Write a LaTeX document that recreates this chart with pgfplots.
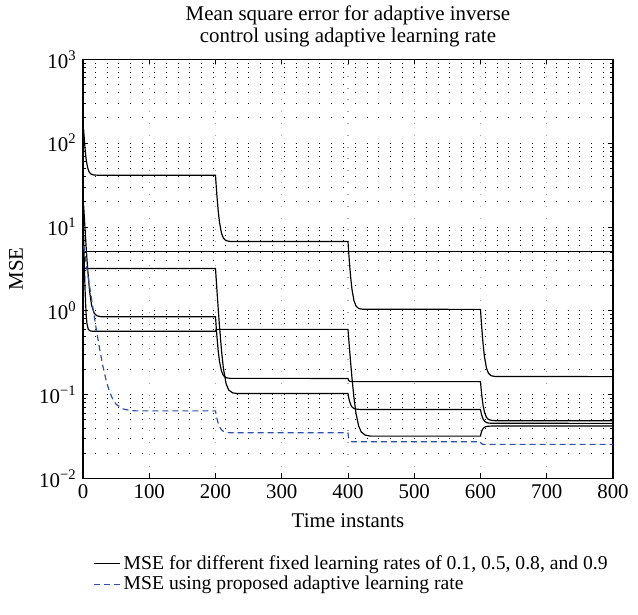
\documentclass[border=0pt]{standalone}
\usepackage{fontspec}
\setmainfont{Liberation Serif}
\usepackage{pgfplots}
\pgfplotsset{compat=1.18}

\definecolor{adablue}{RGB}{45,80,170}

\begin{document}
\begin{tikzpicture}
\begin{axis}[
    at={(0,0)}, anchor=south west,
    scale only axis,
    width=291.5pt, height=230.5pt,
    ymode=log,
    xmin=0, xmax=800,
    ymin=1e-2, ymax=1e3,
    xtick={0,100,...,800},
    ytick={1e-2,1e-1,1,10,100,1000},
    yticklabels={10\textsuperscript{−2},10\textsuperscript{−1},10\textsuperscript{0},10\textsuperscript{1},10\textsuperscript{2},10\textsuperscript{3}},
    /pgf/number format/assume math mode=true,
    tick align=inside,
    tick pos=both,
    major tick length=2.8pt,
    minor tick length=1.6pt,
    every tick/.style={black, line width=0.5pt},
    axis line style={line width=0.6pt},
    font=\fontsize{11.5}{13.6}\selectfont,
    xmajorgrids, ymajorgrids, yminorgrids,
    major x grid style={gray!70, line width=0.6pt, dash pattern=on 0.5pt off 6pt},
    major y grid style={black, line width=0.5pt, dash pattern=on 0.5pt off 6pt},
    minor y grid style={black, line width=0.5pt, dash pattern=on 0.5pt off 6pt},
    title={Mean square error for adaptive inverse\\control using adaptive learning rate},
    title style={align=center, yshift=-3pt, font=\fontsize{11.5}{12.2}\selectfont},
    xlabel={Time instants},
    ylabel={MSE},
    xlabel style={yshift=-1pt},
    ylabel style={yshift=2pt},
    legend style={at={(axis description cs:0.008,-0.165)}, anchor=north west,
        draw=none, fill=none, font=\fontsize{10.8}{13}\selectfont,
        row sep=-1.5pt, cells={anchor=west}},
    legend cell align=left,
    legend image code/.code={\draw[#1] (0cm,0cm) -- (0.5cm,0cm);},
]

% fixed learning rates
\addplot[black, line width=0.65pt] coordinates {
 (1,145) (2,110.9) (3,88) (4,72.7) (5,62.4) (7,50.9) (9,45.7) (12,42.8) (16,41.8) (22,41.5)
 (200,41.5) (201,31.6) (202,24.55) (204,15.86) (206,11.41) (209,8.43) (212,7.34) (216,6.87) (222,6.72)
 (400,6.7) (401,5.10) (402,3.945) (404,2.531) (406,1.805) (409,1.321) (412,1.144) (416,1.067) (422,1.044)
 (600,1.04) (601,0.792) (602,0.613) (604,0.395) (606,0.283) (609,0.2076) (612,0.180) (616,0.168) (622,0.1646)
 (800,0.164)
};
\addlegendentry{MSE for different fixed learning rates of 0.1, 0.5, 0.8, and 0.9}

\addplot[black, line width=0.65pt, forget plot] coordinates {
 (1,5.07) (800,5.07)
};

\addplot[black, line width=0.65pt, forget plot] coordinates {
 (1,3.2) (200,3.2) (201,2.430) (202,1.852) (204,1.091) (206,0.661) (209,0.340) (212,0.2034) (216,0.1351) (220,0.1133) (226,0.1048) (234,0.103)
 (400,0.103) (401,0.0927) (402,0.0852) (404,0.0761) (406,0.0714) (409,0.0683) (412,0.0672) (418,0.0666)
 (600,0.0665) (601,0.0605) (602,0.0562) (604,0.0510) (606,0.0483) (609,0.0465) (612,0.0458) (618,0.0455)
 (800,0.0454)
};

\addplot[black, line width=0.65pt, forget plot] coordinates {
 (1,18) (2,13.14) (3,9.65) (5,5.37) (7,3.17) (10,1.70) (13,1.16) (17,0.933) (21,0.872) (27,0.85)
 (200,0.85) (201,0.653) (202,0.512) (204,0.339) (206,0.250) (209,0.191) (212,0.169) (216,0.159) (222,0.1564)
 (400,0.156) (401,0.147) (403,0.144) (406,0.143)
 (600,0.143) (601,0.1163) (602,0.0972) (604,0.0737) (606,0.0616) (609,0.0536) (612,0.0506) (616,0.0494) (622,0.0489)
 (800,0.0489)
};

\addplot[black, line width=0.65pt, forget plot] coordinates {
 (1,8) (2,3.6) (3,1.9) (4,1.2) (5,0.85) (6,0.7) (8,0.6) (11,0.575) (15,0.57)
 (200,0.57) (201,0.6)
 (400,0.6) (401,0.474) (402,0.3765) (404,0.241) (406,0.1587) (409,0.0919) (412,0.0603) (416,0.0424) (420,0.0358) (426,0.0329) (434,0.032)
 (600,0.032) (601,0.0349) (602,0.0370) (604,0.0395) (606,0.0408) (609,0.0417) (612,0.0420) (618,0.0422)
 (800,0.0422)
};

% proposed adaptive learning rate
\addplot[adablue, line width=0.65pt, dash pattern=on 3.3pt off 2.2pt] coordinates {
 (1,5.89) (3,4.60) (6,3.18) (10,1.95) (15,1.08) (20,0.606) (25,0.354) (30,0.219) (35,0.147) (40,0.1085)
 (45,0.0878) (50,0.0767) (60,0.0677) (70,0.0650) (80,0.064)
 (200,0.064) (201,0.0576) (202,0.0526) (204,0.0457) (206,0.0415) (209,0.0381) (212,0.0364) (216,0.0355) (222,0.0351)
 (400,0.035) (401,0.030) (402,0.0285) (404,0.0277) (406,0.0274)
 (600,0.0274) (601,0.0262) (603,0.0256) (605,0.0255)
 (800,0.0255)
};
\addlegendentry{MSE using proposed adaptive learning rate}

\end{axis}
\path[use as bounding box] (-45.65pt,-74.8pt) rectangle (305.25pt,261.3pt);
\end{tikzpicture}
\end{document}
